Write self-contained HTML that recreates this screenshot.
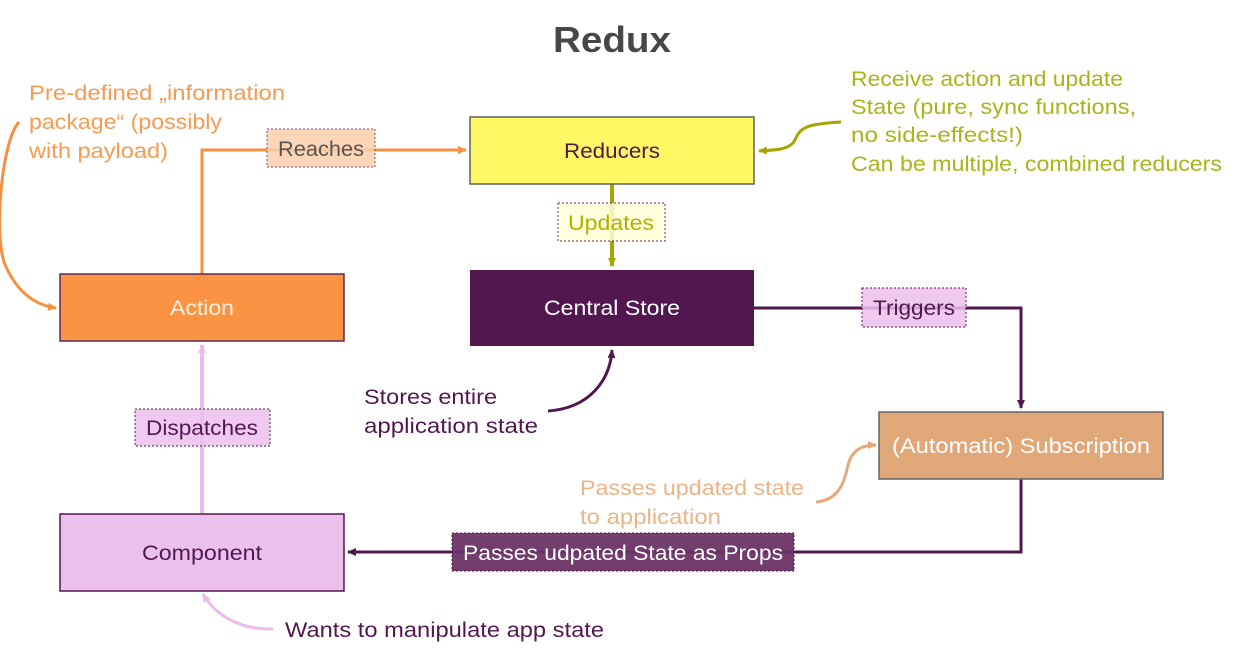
<!DOCTYPE html>
<html><head><meta charset="utf-8"><style>
html,body{margin:0;padding:0;background:#fff;}
svg{display:block;font-family:"Liberation Sans",sans-serif;}
</style></head><body>
<svg width="1245" height="651" viewBox="0 0 1245 651" xmlns="http://www.w3.org/2000/svg">
<defs>
<marker id="aO" markerWidth="10" markerHeight="10" refX="8" refY="5" orient="auto" markerUnits="userSpaceOnUse"><path d="M0,1 L9,5 L0,9 z" fill="#f78f3e"/></marker>
<marker id="aY" markerWidth="10" markerHeight="10" refX="8" refY="5" orient="auto" markerUnits="userSpaceOnUse"><path d="M0,1 L9,5 L0,9 z" fill="#a8a400"/></marker>
<marker id="aP" markerWidth="10" markerHeight="10" refX="8" refY="5" orient="auto" markerUnits="userSpaceOnUse"><path d="M0,1 L9,5 L0,9 z" fill="#52174f"/></marker>
<marker id="aK" markerWidth="10" markerHeight="10" refX="8" refY="5" orient="auto" markerUnits="userSpaceOnUse"><path d="M0,1 L9,5 L0,9 z" fill="#ebbbeb"/></marker>
<marker id="aT" markerWidth="10" markerHeight="10" refX="8" refY="5" orient="auto" markerUnits="userSpaceOnUse"><path d="M0,1 L9,5 L0,9 z" fill="#e5a878"/></marker>
</defs>

<text x="612" y="52" text-anchor="middle" font-size="36" font-weight="bold" fill="#474747" textLength="118" lengthAdjust="spacingAndGlyphs">Redux</text>

<!-- connectors -->
<path d="M202,274 V150 H466" fill="none" stroke="#f78f3e" stroke-width="3" marker-end="url(#aO)"/>
<path d="M612,184 V266" fill="none" stroke="#a8a400" stroke-width="4" marker-end="url(#aY)"/>
<path d="M754,308 H1021 V408" fill="none" stroke="#52174f" stroke-width="3" marker-end="url(#aP)"/>
<path d="M1021,479 V552 H348" fill="none" stroke="#52174f" stroke-width="3" marker-end="url(#aP)"/>
<path d="M202,514 V345" fill="none" stroke="#ebbbeb" stroke-width="4" marker-end="url(#aK)"/>

<!-- curved annotation arrows -->
<path d="M19,122 C2,140 -6,230 4,262 C16,292 35,305 56,308" fill="none" stroke="#f78f3e" stroke-width="3" marker-end="url(#aO)"/>
<path d="M841,122 C805,124 800,128 795,140 C790,150 775,150 759,151" fill="none" stroke="#a8a400" stroke-width="3" marker-end="url(#aY)"/>
<path d="M548,411 C590,408 610,380 612,350" fill="none" stroke="#52174f" stroke-width="3" marker-end="url(#aP)"/>
<path d="M816,502 C840,500 845,480 848,465 C852,450 862,445 876,445" fill="none" stroke="#e5a878" stroke-width="3" marker-end="url(#aT)"/>
<path d="M273,629 C240,630 215,615 203,594" fill="none" stroke="#ebbbeb" stroke-width="3" marker-end="url(#aK)"/>

<!-- nodes -->
<rect x="470" y="117" width="284" height="67" fill="#fff864" stroke="#606060" stroke-width="1.5"/>
<text x="612" y="158" text-anchor="middle" font-size="21" fill="#52174f" textLength="96" lengthAdjust="spacingAndGlyphs">Reducers</text>

<rect x="470" y="270" width="284" height="76" fill="#52174f"/>
<text x="612" y="315" text-anchor="middle" font-size="21" fill="#fff" textLength="136" lengthAdjust="spacingAndGlyphs">Central Store</text>

<rect x="60" y="274" width="284" height="67" fill="#fa9442" stroke="#5a2a5a" stroke-width="1.5"/>
<text x="202" y="315" text-anchor="middle" font-size="21" fill="#fff0e0" textLength="64" lengthAdjust="spacingAndGlyphs">Action</text>

<rect x="60" y="514" width="284" height="77" fill="#ecc0ec" stroke="#52174f" stroke-width="1.5"/>
<text x="202" y="560" text-anchor="middle" font-size="21" fill="#52174f" textLength="120" lengthAdjust="spacingAndGlyphs">Component</text>

<rect x="879" y="412" width="284" height="67" fill="#e0a878" stroke="#666" stroke-width="1.5"/>
<text x="1021" y="453" text-anchor="middle" font-size="21" fill="#fff" textLength="258" lengthAdjust="spacingAndGlyphs">(Automatic) Subscription</text>

<!-- edge labels -->
<rect x="267" y="129" width="108" height="38" fill="#fbcfaa" fill-opacity="0.85" stroke="#7a4a7a" stroke-dasharray="2,2"/>
<text x="321" y="156" text-anchor="middle" font-size="21" fill="#555" textLength="86" lengthAdjust="spacingAndGlyphs">Reaches</text>

<rect x="558" y="203" width="107" height="38" fill="#ffffd8" fill-opacity="0.85" stroke="#6a2a6a" stroke-dasharray="2,2"/>
<text x="611" y="230" text-anchor="middle" font-size="21" fill="#b4b000" textLength="86" lengthAdjust="spacingAndGlyphs">Updates</text>

<rect x="862" y="288" width="104" height="39" fill="#ecc0ec" fill-opacity="0.85" stroke="#52174f" stroke-dasharray="2,2"/>
<text x="914" y="315" text-anchor="middle" font-size="21" fill="#52174f" textLength="82" lengthAdjust="spacingAndGlyphs">Triggers</text>

<rect x="135" y="409" width="135" height="37" fill="#ecc0ec" fill-opacity="0.85" stroke="#52174f" stroke-dasharray="2,2"/>
<text x="202" y="435" text-anchor="middle" font-size="21" fill="#52174f" textLength="112" lengthAdjust="spacingAndGlyphs">Dispatches</text>

<rect x="452" y="533" width="342" height="38" fill="#6b3466" fill-opacity="0.95" stroke="#52174f" stroke-dasharray="2,2"/>
<text x="623" y="560" text-anchor="middle" font-size="21" fill="#fff" textLength="320" lengthAdjust="spacingAndGlyphs">Passes udpated State as Props</text>

<!-- annotations -->
<g font-size="21" fill="#f79a52">
<text x="29" y="100" textLength="256" lengthAdjust="spacingAndGlyphs">Pre-defined „information</text>
<text x="29" y="129" textLength="193" lengthAdjust="spacingAndGlyphs">package“ (possibly</text>
<text x="29" y="158" textLength="139" lengthAdjust="spacingAndGlyphs">with payload)</text>
</g>
<g font-size="21" fill="#a8b41a">
<text x="851" y="86" textLength="272" lengthAdjust="spacingAndGlyphs">Receive action and update</text>
<text x="851" y="114" textLength="285" lengthAdjust="spacingAndGlyphs">State (pure, sync functions,</text>
<text x="851" y="142" textLength="172" lengthAdjust="spacingAndGlyphs">no side-effects!)</text>
<text x="851" y="171" textLength="371" lengthAdjust="spacingAndGlyphs">Can be multiple, combined reducers</text>
</g>
<g font-size="21" fill="#52174f">
<text x="364" y="404" textLength="133" lengthAdjust="spacingAndGlyphs">Stores entire</text>
<text x="364" y="433" textLength="174" lengthAdjust="spacingAndGlyphs">application state</text>
<text x="285" y="637" textLength="319" lengthAdjust="spacingAndGlyphs">Wants to manipulate app state</text>
</g>
<g font-size="21" fill="#eab488">
<text x="580" y="495" textLength="224" lengthAdjust="spacingAndGlyphs">Passes updated state</text>
<text x="580" y="524" textLength="141" lengthAdjust="spacingAndGlyphs">to application</text>
</g>
</svg>
</body></html>
